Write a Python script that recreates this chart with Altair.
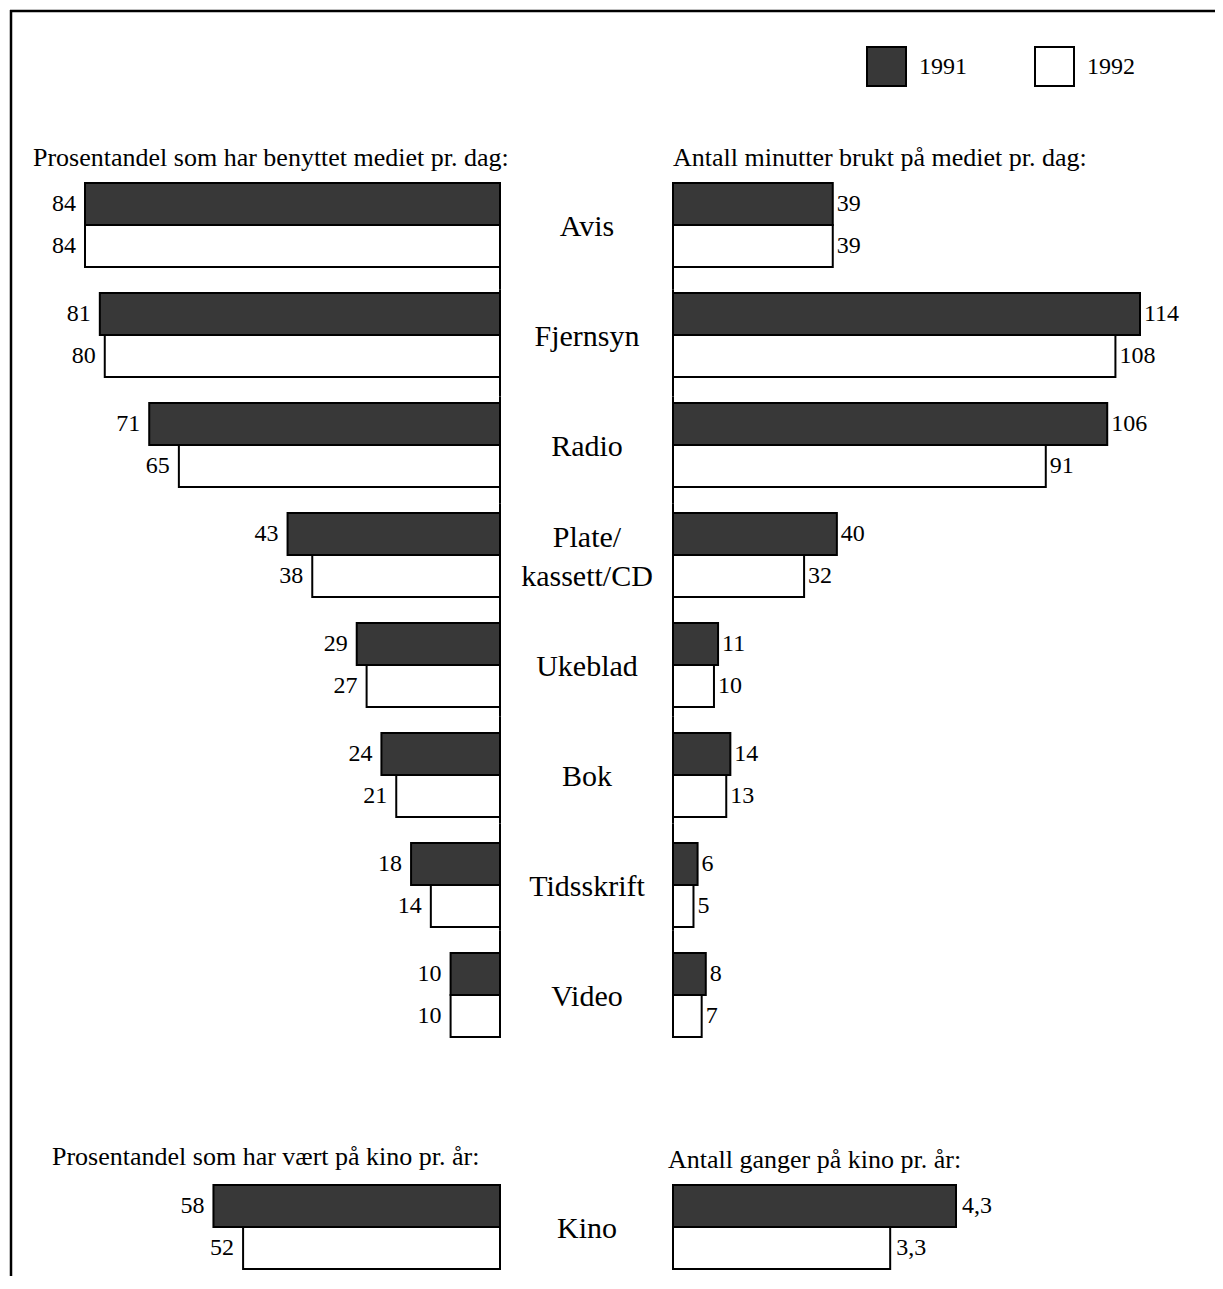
import altair as alt
import pandas as pd

# ---------------- data ----------------
cat_keys = ["Avis", "Fjernsyn", "Radio", "Plate", "Ukeblad", "Bok", "Tidsskrift", "Video"]
cat_labels = ["Avis", "Fjernsyn", "Radio", "Plate/\nkassett/CD", "Ukeblad", "Bok", "Tidsskrift", "Video"]
years = ["1991", "1992"]

pct_1991 = [84, 81, 71, 43, 29, 24, 18, 10]
pct_1992 = [84, 80, 65, 38, 27, 21, 14, 10]
min_1991 = [39, 114, 106, 40, 11, 14, 6, 8]
min_1992 = [39, 108, 91, 32, 10, 13, 5, 7]

kino_cat = ["Kino"]
kino_pct = [58, 52]
kino_times = [4.3, 3.3]
kino_times_labels = ["4,3", "3,3"]

header_left_top = "Prosentandel som har benyttet mediet pr. dag:"
header_right_top = "Antall minutter brukt på mediet pr. dag:"
header_left_kino = "Prosentandel som har vært på kino pr. år:"
header_right_kino = "Antall ganger på kino pr. år:"

FONT = "Liberation Serif"
M = 8  # page margin
DARK = "#383838"


def long_df(cats, v91, v92, labs91=None, labs92=None):
    rows = []
    for i, c in enumerate(cats):
        a, b = v91[i], v92[i]
        la = labs91[i] if labs91 else str(a)
        lb = labs92[i] if labs92 else str(b)
        rows.append({"cat": c, "year": "1991", "v": a, "lab": la})
        rows.append({"cat": c, "year": "1992", "v": b, "lab": lb})
    return pd.DataFrame(rows)


df_pct = long_df(cat_keys, pct_1991, pct_1992)
df_min = long_df(cat_keys, min_1991, min_1992)
df_kpct = long_df(kino_cat, [kino_pct[0]], [kino_pct[1]])
df_ktimes = long_df(kino_cat, [kino_times[0]], [kino_times[1]],
                    [kino_times_labels[0]], [kino_times_labels[1]])
df_cats = pd.DataFrame({"cat": cat_keys, "label": cat_labels,
                        "multi": ["\n" in s for s in cat_labels]})
df_kcat = pd.DataFrame({"cat": kino_cat, "label": kino_cat})
one = pd.DataFrame({"k": [0]})

# ---------------- scales ----------------
x_left = alt.Scale(domain=[0, 84], range=[500 - M, 85 - M], nice=False)
x_right = alt.Scale(domain=[0, 114], range=[673 - M, 1140 - M], nice=False)
x_kino_r = alt.Scale(domain=[0, 4.3], range=[673 - M, 956 - M], nice=False)
y_top = alt.Scale(domain=cat_keys, range=[170 - M, 1050 - M],
                  paddingInner=26 / 110, paddingOuter=13 / 110)
y_line = alt.Scale(domain=cat_keys, range=[183 - M, 1037 - M],
                   paddingInner=0, paddingOuter=0)
y_kino = alt.Scale(domain=kino_cat, range=[1185 - M, 1269 - M],
                   paddingInner=0, paddingOuter=0)
off = alt.Scale(domain=years, paddingInner=0, paddingOuter=0)

legend = alt.Legend(
    orient="none", legendX=866 - M, legendY=46 - M, direction="horizontal",
    title=None, symbolType="square", symbolSize=1521,
    symbolStrokeColor="black", symbolStrokeWidth=2,
    labelFont=FONT, labelFontSize=24, labelColor="black", labelOffset=12,
    columnPadding=64, padding=0,
)
fill = alt.Fill("year:N", scale=alt.Scale(domain=years, range=[DARK, "#ffffff"]),
                legend=legend)


def bars(df, xscale, yscale):
    return alt.Chart(df).mark_bar(stroke="black", strokeWidth=2).encode(
        x=alt.X("v:Q", scale=xscale, axis=None),
        y=alt.Y("cat:N", scale=yscale, axis=None),
        yOffset=alt.YOffset("year:N", scale=off),
        fill=fill,
    )


def vlabels(df, xscale, yscale, align, dx):
    return alt.Chart(df).mark_text(
        align=align, dx=dx, baseline="middle", font=FONT, fontSize=24, color="black"
    ).encode(
        x=alt.X("v:Q", scale=xscale, axis=None),
        y=alt.Y("cat:N", scale=yscale, axis=None),
        yOffset=alt.YOffset("year:N", scale=off),
        text="lab:N",
    )


def zero_line(xscale):
    return alt.Chart(df_cats).mark_rect(stroke="black", strokeWidth=2, fill=None).encode(
        x=alt.X(datum=0, type="quantitative", scale=xscale, axis=None),
        x2=alt.X2(datum=0),
        y=alt.Y("cat:N", scale=y_line, axis=None),
    )


def header(text, x, y):
    return alt.Chart(pd.DataFrame({"t": [text]})).mark_text(
        align="left", baseline="alphabetic", font=FONT, fontSize=26, color="black"
    ).encode(x=alt.value(x - M), y=alt.value(y - M), text="t:N")


def cat_text_layer(multi, dy):
    return alt.Chart(df_cats).transform_filter(
        alt.datum.multi == multi
    ).mark_text(
        align="center", baseline="middle", font=FONT, fontSize=30, color="black",
        lineBreak="\n", lineHeight=39, dy=dy,
    ).encode(
        x=alt.value(587 - M),
        y=alt.Y("cat:N", scale=y_top, axis=None),
        text="label:N",
    )


kino_text = alt.Chart(df_kcat).mark_text(
    align="center", baseline="middle", font=FONT, fontSize=30, color="black", dy=2,
).encode(
    x=alt.value(587 - M),
    y=alt.Y("cat:N", scale=y_kino, axis=None),
    text="label:N",
)

frame_top = alt.Chart(one).mark_rule(color="black", strokeWidth=2.5).encode(
    x=alt.value(2), x2=alt.value(1215), y=alt.value(3))
frame_left = alt.Chart(one).mark_rule(color="black", strokeWidth=2.5).encode(
    x=alt.value(3), y=alt.value(2), y2=alt.value(1290))

chart = alt.layer(
    frame_top, frame_left,
    zero_line(x_left), zero_line(x_right),
    bars(df_pct, x_left, y_top),
    bars(df_min, x_right, y_top),
    bars(df_kpct, x_left, y_kino),
    bars(df_ktimes, x_kino_r, y_kino),
    vlabels(df_pct, x_left, y_top, "right", -9),
    vlabels(df_min, x_right, y_top, "left", 4),
    vlabels(df_kpct, x_left, y_kino, "right", -9),
    vlabels(df_ktimes, x_kino_r, y_kino, "left", 6),
    cat_text_layer(False, 2), cat_text_layer(True, -17),
    kino_text,
    header(header_left_top, 33, 166),
    header(header_right_top, 673, 166),
    header(header_left_kino, 52, 1165),
    header(header_right_kino, 668, 1168),
).resolve_scale(
    x="independent", y="independent"
).properties(
    width=1207, height=1268, padding=0, autosize=alt.AutoSizeParams(type="none"),
).configure_view(stroke=None)

chart.save("out.html", embed_options={"renderer": "svg", "actions": False})
